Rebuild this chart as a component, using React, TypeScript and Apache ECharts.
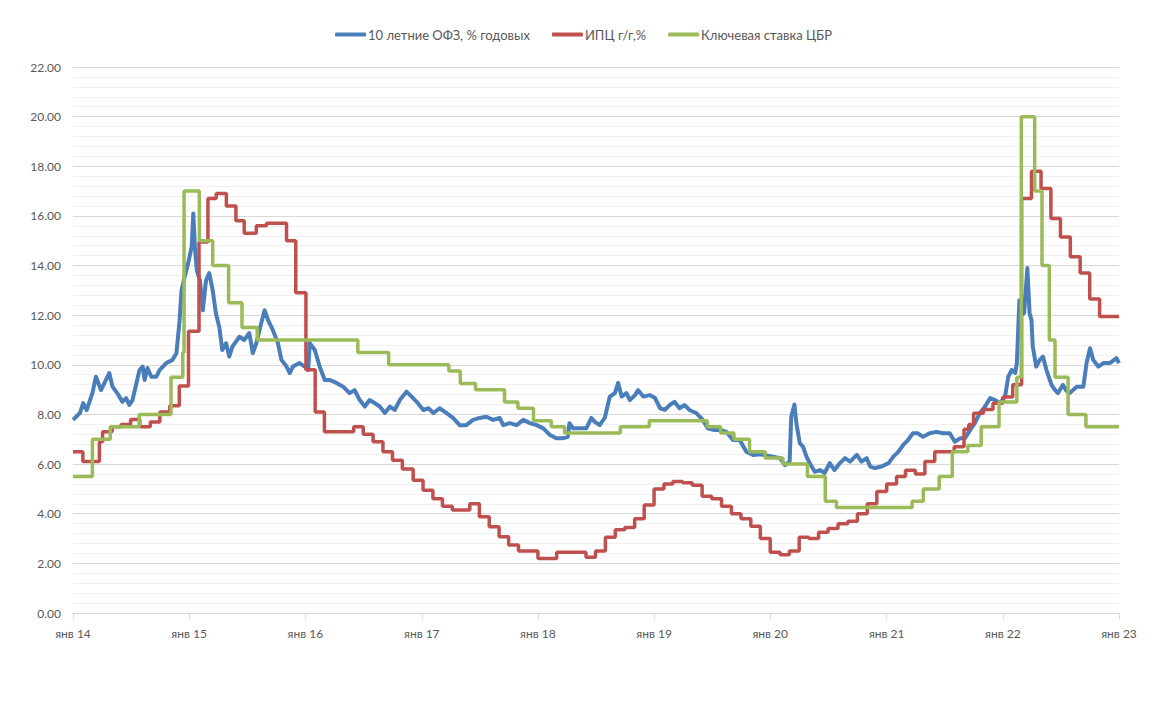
import React, { useEffect, useRef } from "react";
import * as echarts from "echarts";

const seriesNames = ["10 летние ОФЗ, % годовых", "ИПЦ г/г,%", "Ключевая ставка ЦБР"];
const colors = ["#4A7EBB", "#C0504D", "#9BBB59"];

const ofz10: [string, number][] = [
  ["2014-01-01", 7.78], ["2014-01-23", 8.06], ["2014-02-02", 8.46], ["2014-02-13", 8.18], ["2014-03-03", 8.86],
  ["2014-03-14", 9.52], ["2014-03-30", 8.98], ["2014-04-10", 9.27], ["2014-04-25", 9.67], ["2014-05-05", 9.12],
  ["2014-05-20", 8.86], ["2014-06-05", 8.51], ["2014-06-17", 8.66], ["2014-06-27", 8.38], ["2014-07-07", 8.58],
  ["2014-07-29", 9.79], ["2014-08-08", 9.93], ["2014-08-14", 9.39], ["2014-08-23", 9.87], ["2014-09-04", 9.52],
  ["2014-09-20", 9.52], ["2014-09-30", 9.79], ["2014-10-21", 10.07], ["2014-11-10", 10.2], ["2014-11-22", 10.47],
  ["2014-12-02", 11.8], ["2014-12-08", 13.0], ["2014-12-18", 13.55], ["2014-12-29", 14.1], ["2015-01-09", 14.76],
  ["2015-01-14", 16.1], ["2015-01-19", 14.76], ["2015-01-25", 13.8], ["2015-02-04", 13.4], ["2015-02-13", 12.2],
  ["2015-02-23", 13.4], ["2015-03-05", 13.7], ["2015-03-16", 13.0], ["2015-03-26", 12.08], ["2015-04-06", 11.5],
  ["2015-04-15", 10.6], ["2015-04-27", 10.87], ["2015-05-07", 10.33], ["2015-05-17", 10.73], ["2015-06-08", 11.13],
  ["2015-06-23", 11.0], ["2015-07-09", 11.28], ["2015-07-20", 10.47], ["2015-07-31", 10.87], ["2015-08-10", 11.4],
  ["2015-08-26", 12.2], ["2015-09-06", 11.8], ["2015-09-21", 11.4], ["2015-10-07", 10.87], ["2015-10-18", 10.2],
  ["2015-11-03", 9.93], ["2015-11-13", 9.67], ["2015-11-23", 9.93], ["2015-12-14", 10.07], ["2015-12-30", 9.93],
  ["2016-01-10", 9.79], ["2016-01-15", 10.87], ["2016-01-31", 10.6], ["2016-02-15", 9.93], ["2016-03-02", 9.39],
  ["2016-03-17", 9.39], ["2016-04-08", 9.27], ["2016-04-29", 9.12], ["2016-05-19", 8.86], ["2016-06-04", 8.98],
  ["2016-06-20", 8.58], ["2016-07-06", 8.32], ["2016-07-21", 8.58], ["2016-08-06", 8.46], ["2016-08-22", 8.32],
  ["2016-09-07", 8.06], ["2016-09-23", 8.32], ["2016-10-08", 8.18], ["2016-10-24", 8.58], ["2016-11-14", 8.92],
  ["2016-11-30", 8.72], ["2016-12-16", 8.51], ["2017-01-06", 8.18], ["2017-01-22", 8.25], ["2017-02-07", 8.06],
  ["2017-02-26", 8.25], ["2017-03-19", 8.06], ["2017-04-09", 7.86], ["2017-04-30", 7.57], ["2017-05-21", 7.57],
  ["2017-06-11", 7.78], ["2017-07-02", 7.86], ["2017-07-23", 7.91], ["2017-08-13", 7.78], ["2017-09-03", 7.86],
  ["2017-09-14", 7.57], ["2017-10-05", 7.65], ["2017-10-26", 7.57], ["2017-11-16", 7.78], ["2017-12-07", 7.65],
  ["2017-12-28", 7.57], ["2018-01-18", 7.44], ["2018-02-08", 7.17], ["2018-02-28", 7.04], ["2018-03-20", 7.04],
  ["2018-04-05", 7.1], ["2018-04-10", 7.65], ["2018-04-21", 7.44], ["2018-05-12", 7.44], ["2018-06-02", 7.44],
  ["2018-06-18", 7.86], ["2018-06-28", 7.71], ["2018-07-14", 7.57], ["2018-07-30", 7.86], ["2018-08-15", 8.72],
  ["2018-08-31", 8.86], ["2018-09-10", 9.27], ["2018-09-21", 8.72], ["2018-10-06", 8.86], ["2018-10-17", 8.58],
  ["2018-11-02", 8.78], ["2018-11-12", 8.98], ["2018-11-28", 8.72], ["2018-12-18", 8.78], ["2019-01-04", 8.66],
  ["2019-01-20", 8.25], ["2019-02-04", 8.18], ["2019-02-19", 8.38], ["2019-03-06", 8.51], ["2019-03-22", 8.25],
  ["2019-04-07", 8.38], ["2019-04-22", 8.18], ["2019-05-13", 8.06], ["2019-06-03", 7.78], ["2019-06-19", 7.44],
  ["2019-07-10", 7.37], ["2019-07-31", 7.37], ["2019-08-16", 7.3], ["2019-09-06", 6.97], ["2019-09-27", 6.97],
  ["2019-10-18", 6.5], ["2019-11-08", 6.37], ["2019-11-29", 6.4], ["2019-12-20", 6.35], ["2020-01-10", 6.3],
  ["2020-02-01", 6.24], ["2020-02-16", 5.96], ["2020-03-02", 6.1], ["2020-03-07", 7.91], ["2020-03-17", 8.4],
  ["2020-03-23", 7.65], ["2020-04-03", 6.84], ["2020-04-13", 6.7], ["2020-04-24", 6.3], ["2020-05-04", 6.04],
  ["2020-05-20", 5.69], ["2020-06-05", 5.76], ["2020-06-20", 5.64], ["2020-07-06", 6.04], ["2020-07-21", 5.76],
  ["2020-08-07", 6.04], ["2020-08-23", 6.24], ["2020-09-08", 6.1], ["2020-09-29", 6.37], ["2020-10-14", 6.1],
  ["2020-10-30", 6.24], ["2020-11-10", 5.9], ["2020-11-25", 5.84], ["2020-12-16", 5.9], ["2021-01-07", 6.04],
  ["2021-01-22", 6.3], ["2021-02-07", 6.5], ["2021-02-22", 6.77], ["2021-03-09", 6.97], ["2021-03-24", 7.24],
  ["2021-04-09", 7.24], ["2021-04-25", 7.1], ["2021-05-16", 7.24], ["2021-06-06", 7.3], ["2021-06-27", 7.24],
  ["2021-07-18", 7.24], ["2021-08-03", 6.9], ["2021-08-19", 7.04], ["2021-09-04", 7.04], ["2021-09-20", 7.37],
  ["2021-10-05", 7.65], ["2021-10-21", 8.06], ["2021-11-06", 8.32], ["2021-11-22", 8.66], ["2021-12-07", 8.58],
  ["2021-12-23", 8.46], ["2022-01-08", 8.72], ["2022-01-18", 9.52], ["2022-01-29", 9.79], ["2022-02-09", 9.67],
  ["2022-02-14", 10.07], ["2022-02-22", 12.6], ["2022-02-28", 12.0], ["2022-03-09", 12.1], ["2022-03-19", 13.9],
  ["2022-03-26", 12.08], ["2022-04-01", 11.8], ["2022-04-05", 10.73], ["2022-04-16", 9.93], ["2022-04-27", 10.2],
  ["2022-05-07", 10.33], ["2022-05-18", 9.79], ["2022-06-03", 9.19], ["2022-06-13", 9.0], ["2022-06-23", 8.86],
  ["2022-07-09", 9.19], ["2022-07-20", 8.95], ["2022-07-30", 8.86], ["2022-08-21", 9.12], ["2022-09-11", 9.12],
  ["2022-09-21", 10.07], ["2022-10-02", 10.67], ["2022-10-12", 10.2], ["2022-10-28", 9.93], ["2022-11-13", 10.07],
  ["2022-12-03", 10.07], ["2022-12-24", 10.27], ["2023-01-01", 10.07],
];

const cpi: [string, number][] = [
  ["2014-01-01", 6.5], ["2014-02-01", 6.1], ["2014-03-25", 6.9], ["2014-04-04", 7.3], ["2014-05-04", 7.5],
  ["2014-06-01", 7.6], ["2014-07-01", 7.8], ["2014-07-30", 7.5], ["2014-09-01", 7.7], ["2014-10-01", 8.1],
  ["2014-11-01", 8.35], ["2014-12-01", 9.15], ["2014-12-30", 11.35], ["2015-02-01", 14.95], ["2015-03-01", 16.7],
  ["2015-03-27", 16.9], ["2015-04-28", 16.4], ["2015-05-28", 15.8], ["2015-06-23", 15.3], ["2015-07-31", 15.6],
  ["2015-09-01", 15.7], ["2015-11-03", 15.0], ["2015-12-02", 12.9], ["2016-01-03", 9.8], ["2016-02-01", 8.1],
  ["2016-03-01", 7.3], ["2016-06-01", 7.5], ["2016-07-01", 7.2], ["2016-08-01", 6.9], ["2016-09-01", 6.5],
  ["2016-10-01", 6.15], ["2016-11-01", 5.8], ["2016-12-05", 5.35], ["2017-01-05", 4.95], ["2017-02-05", 4.6],
  ["2017-03-07", 4.3], ["2017-04-07", 4.15], ["2017-06-01", 4.4], ["2017-07-01", 3.88], ["2017-08-01", 3.48],
  ["2017-09-01", 3.07], ["2017-10-01", 2.74], ["2017-11-01", 2.5], ["2018-01-01", 2.2], ["2018-03-01", 2.45],
  ["2018-06-01", 2.25], ["2018-07-01", 2.5], ["2018-08-01", 3.05], ["2018-09-01", 3.35], ["2018-10-01", 3.45],
  ["2018-11-01", 3.8], ["2018-12-01", 4.35], ["2019-01-01", 5.0], ["2019-02-01", 5.2], ["2019-03-01", 5.3],
  ["2019-04-01", 5.25], ["2019-05-01", 5.15], ["2019-06-01", 4.7], ["2019-07-01", 4.6], ["2019-08-01", 4.3],
  ["2019-09-01", 4.0], ["2019-10-01", 3.8], ["2019-11-01", 3.5], ["2019-12-01", 3.0], ["2020-01-01", 2.45],
  ["2020-02-01", 2.35], ["2020-03-01", 2.5], ["2020-04-01", 3.05], ["2020-05-01", 3.0], ["2020-06-01", 3.25],
  ["2020-07-01", 3.4], ["2020-08-01", 3.6], ["2020-09-01", 3.7], ["2020-10-01", 4.0], ["2020-11-01", 4.4],
  ["2020-12-01", 4.9], ["2021-01-01", 5.2], ["2021-02-01", 5.5], ["2021-03-01", 5.75], ["2021-04-01", 5.6],
  ["2021-05-01", 6.1], ["2021-06-01", 6.5], ["2021-07-01", 6.5], ["2021-08-01", 6.7], ["2021-09-01", 7.4],
  ["2021-09-16", 7.6], ["2021-10-01", 8.05], ["2021-11-01", 8.2], ["2021-12-01", 8.45], ["2022-01-01", 8.7],
  ["2022-02-01", 9.2], ["2022-03-01", 16.7], ["2022-04-01", 17.8], ["2022-05-01", 17.1], ["2022-06-01", 15.9],
  ["2022-07-01", 15.15], ["2022-08-01", 14.35], ["2022-09-01", 13.7], ["2022-10-01", 12.65], ["2022-11-01", 11.95],
  ["2023-01-01", 11.95],
];

const keyRate: [string, number][] = [
  ["2014-01-01", 5.5], ["2014-03-03", 7.0], ["2014-04-28", 7.5], ["2014-07-28", 8.0], ["2014-11-05", 9.5],
  ["2014-12-12", 10.5], ["2014-12-16", 17.0], ["2015-02-02", 15.0], ["2015-03-16", 14.0], ["2015-05-05", 12.5],
  ["2015-06-16", 11.5], ["2015-08-03", 11.0], ["2016-06-14", 10.5], ["2016-09-19", 10.0], ["2017-03-27", 9.75],
  ["2017-05-02", 9.25], ["2017-06-19", 9.0], ["2017-09-18", 8.5], ["2017-10-30", 8.25], ["2017-12-18", 7.75],
  ["2018-02-12", 7.5], ["2018-03-26", 7.25], ["2018-09-17", 7.5], ["2018-12-17", 7.75], ["2019-06-17", 7.5],
  ["2019-07-29", 7.25], ["2019-09-09", 7.0], ["2019-10-28", 6.5], ["2019-12-16", 6.25], ["2020-02-10", 6.0],
  ["2020-04-27", 5.5], ["2020-06-22", 4.5], ["2020-07-27", 4.25], ["2021-03-22", 4.5], ["2021-04-26", 5.0],
  ["2021-06-15", 5.5], ["2021-07-26", 6.5], ["2021-09-13", 6.75], ["2021-10-25", 7.5], ["2021-12-20", 8.5],
  ["2022-02-14", 9.5], ["2022-02-28", 20.0], ["2022-04-11", 17.0], ["2022-05-04", 14.0], ["2022-05-27", 11.0],
  ["2022-06-14", 9.5], ["2022-07-25", 8.0], ["2022-09-19", 7.5], ["2023-01-01", 7.5],
];

const xMin = "2014-01-01";
const xMax = "2023-01-01";
const yMin = 0;
const yMax = 22;
const yInterval = 2;
const monthAbbr = "янв";

const FONT = "Lato, 'Open Sans', sans-serif";

export default function App() {
  const ref = useRef<HTMLDivElement>(null);
  useEffect(() => {
    if (!ref.current) return;
    const chart = echarts.init(ref.current, null, { renderer: "svg" });
    const DAY = 86400000;
    chart.setOption({
      animation: false,
      backgroundColor: "#ffffff",
      textStyle: { fontFamily: FONT },
      color: colors,
      legend: {
        top: 23,
        left: "center",
        itemWidth: 31,
        itemHeight: 4,
        itemGap: 22,
        icon: "roundRect",
        textStyle: { color: "#595959", fontSize: 13, fontFamily: FONT, padding: [0, 0, 0, -3] },
        data: seriesNames,
      },
      grid: { left: 73, right: 48, top: 67, bottom: 97, containLabel: false },
      xAxis: {
        type: "time",
        min: xMin,
        max: xMax,
        minInterval: 365 * DAY,
        maxInterval: 366 * DAY,
        axisLine: { show: true, lineStyle: { color: "#D9D9D9", width: 1 } },
        axisTick: { show: true, length: 6, lineStyle: { color: "#D9D9D9" } },
        splitLine: { show: false },
        axisLabel: {
          color: "#595959",
          fontSize: 12,
          fontFamily: FONT,
          margin: 14,
          showMinLabel: true,
          showMaxLabel: true,
          hideOverlap: false,
          formatter: (v: number) => {
            const d = new Date(v);
            return monthAbbr + " " + String(d.getFullYear()).slice(2);
          },
        },
      },
      yAxis: {
        type: "value",
        min: yMin,
        max: yMax,
        interval: yInterval,
        axisLine: { show: false },
        axisTick: { show: false },
        minorTick: { show: false, splitNumber: 5 },
        splitLine: { show: true, lineStyle: { color: "#D9D9D9", width: 1 } },
        minorSplitLine: { show: true, lineStyle: { color: "#F0F0F0", width: 1 } },
        axisLabel: {
          color: "#595959",
          fontSize: 12,
          fontFamily: FONT,
          margin: 12,
          formatter: (v: number) => v.toFixed(2),
        },
      },
      series: [
        {
          name: seriesNames[0],
          type: "line",
          data: ofz10,
          showSymbol: false,
          lineStyle: { width: 4, color: colors[0], join: "round" },
          itemStyle: { color: colors[0] },
          z: 2,
        },
        {
          name: seriesNames[1],
          type: "line",
          step: "end",
          data: cpi,
          showSymbol: false,
          lineStyle: { width: 3.5, color: colors[1] },
          itemStyle: { color: colors[1] },
          z: 3,
        },
        {
          name: seriesNames[2],
          type: "line",
          step: "end",
          data: keyRate,
          showSymbol: false,
          lineStyle: { width: 3.5, color: colors[2] },
          itemStyle: { color: colors[2] },
          z: 4,
        },
      ],
    });
    return () => chart.dispose();
  }, []);
  return (
    <div
      ref={ref}
      style={{ position: "fixed", left: 0, top: 0, width: 1167, height: 710, background: "#fff" }}
    />
  );
}
